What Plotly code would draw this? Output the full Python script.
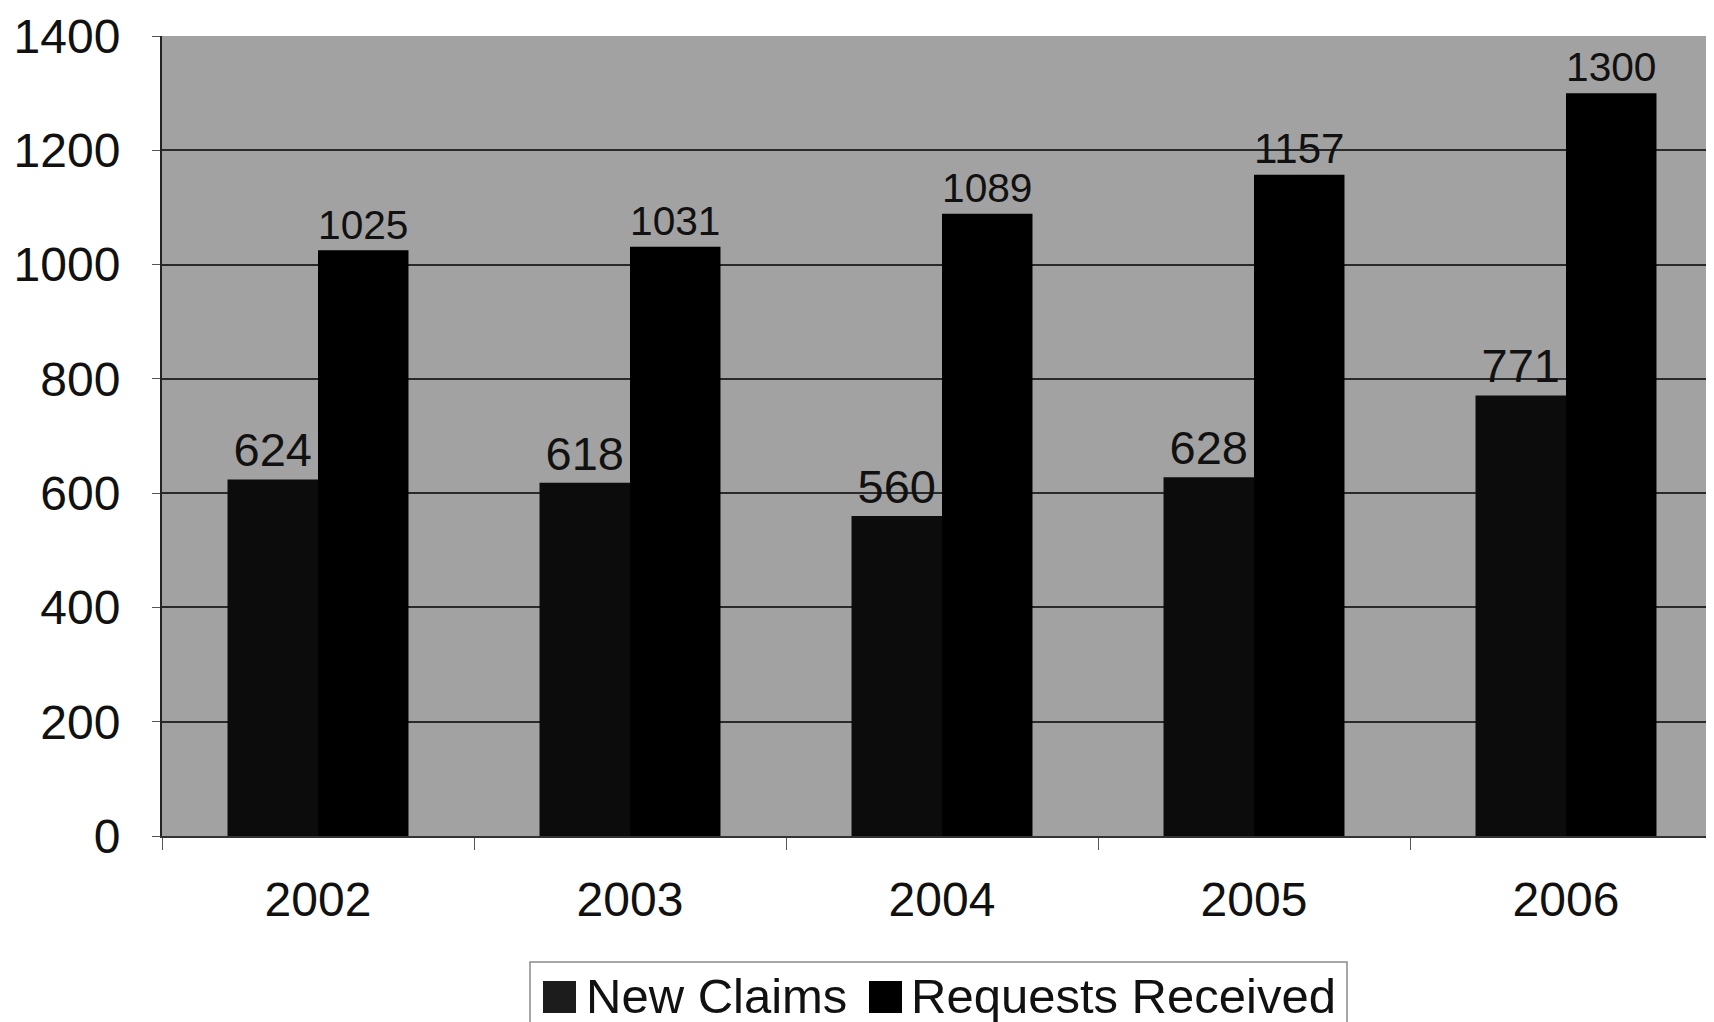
import plotly.graph_objects as go

years = ["2002", "2003", "2004", "2005", "2006"]
new_claims = [624, 618, 560, 628, 771]
requests_received = [1025, 1031, 1089, 1157, 1300]
y_ticks = [0, 200, 400, 600, 800, 1000, 1200, 1400]
legend_names = ["New Claims", "Requests Received"]

FONT = "Liberation Sans, Arial, sans-serif"
C_NEW = "#0c0c0c"
C_REQ = "#000000"

# plot-area geometry (figure pixels) used to place the custom legend
ML, MT, MB, W, H = 154, 28, 194, 1714, 1022
PW, PH = W - ML, H - MT - MB
OFF = 8  # page body offset


def fx(px):
    return (px - OFF - ML) / PW


def fy(py):
    return 1 - (py - OFF - MT) / PH


fig = go.Figure()
fig.add_trace(go.Bar(
    x=years, y=new_claims, name=legend_names[0], showlegend=False,
    marker=dict(color=C_NEW, line=dict(width=0)),
    text=[str(v) for v in new_claims], textposition="outside",
    textfont=dict(family=FONT, size=47, color="#111111"),
    cliponaxis=False,
))
fig.add_trace(go.Bar(
    x=years, y=requests_received, name=legend_names[1], showlegend=False,
    marker=dict(color=C_REQ, line=dict(width=0)),
    text=[str(v) for v in requests_received], textposition="outside",
    textfont=dict(family=FONT, size=47, color="#111111"),
    cliponaxis=False,
))

shapes = [
    dict(type="rect", xref="paper", yref="paper",
         x0=fx(530), x1=fx(1347), y0=fy(1040), y1=fy(962),
         line=dict(color="#8a8a8a", width=1.5), fillcolor="white", layer="below"),
    dict(type="rect", xref="paper", yref="paper",
         x0=fx(543), x1=fx(576), y0=fy(1013), y1=fy(981),
         line=dict(width=0), fillcolor="#1c1c1c"),
    dict(type="rect", xref="paper", yref="paper",
         x0=fx(869), x1=fx(902), y0=fy(1013), y1=fy(981),
         line=dict(width=0), fillcolor=C_REQ),
]
annotations = [
    dict(text=legend_names[0], xref="paper", yref="paper", x=fx(584), y=fy(996),
         xanchor="left", yanchor="middle", showarrow=False,
         font=dict(family=FONT, size=49, color="#111111")),
    dict(text=legend_names[1], xref="paper", yref="paper", x=fx(909), y=fy(996),
         xanchor="left", yanchor="middle", showarrow=False,
         font=dict(family=FONT, size=49, color="#111111")),
]

fig.update_layout(
    width=W, height=H,
    margin=dict(l=ML, r=0, t=MT, b=MB),
    paper_bgcolor="white",
    plot_bgcolor="#a2a2a2",
    barmode="group",
    bargap=0.42,
    bargroupgap=0,
    showlegend=False,
    font=dict(family=FONT, color="#111111"),
    shapes=shapes,
    annotations=annotations,
    xaxis=dict(
        type="category", range=[-0.5, 4.5],
        tickson="boundaries", ticks="outside", ticklen=12, tickcolor="#555555",
        showline=True, linecolor="#333333", linewidth=2,
        tickfont=dict(family=FONT, size=48, color="#111111"),
        ticklabelstandoff=20,
        showgrid=False,
    ),
    yaxis=dict(
        range=[0, 1400], tickvals=y_ticks,
        ticktext=[str(v) for v in y_ticks],
        showgrid=True, gridcolor="#2a2a2a", gridwidth=2,
        showline=True, linecolor="#222222", linewidth=2,
        ticks="outside", ticklen=8, tickcolor="#555555",
        tickfont=dict(family=FONT, size=48, color="#111111"),
        ticklabelstandoff=22,
        zeroline=False,
    ),
)

fig.write_html("out.html")
